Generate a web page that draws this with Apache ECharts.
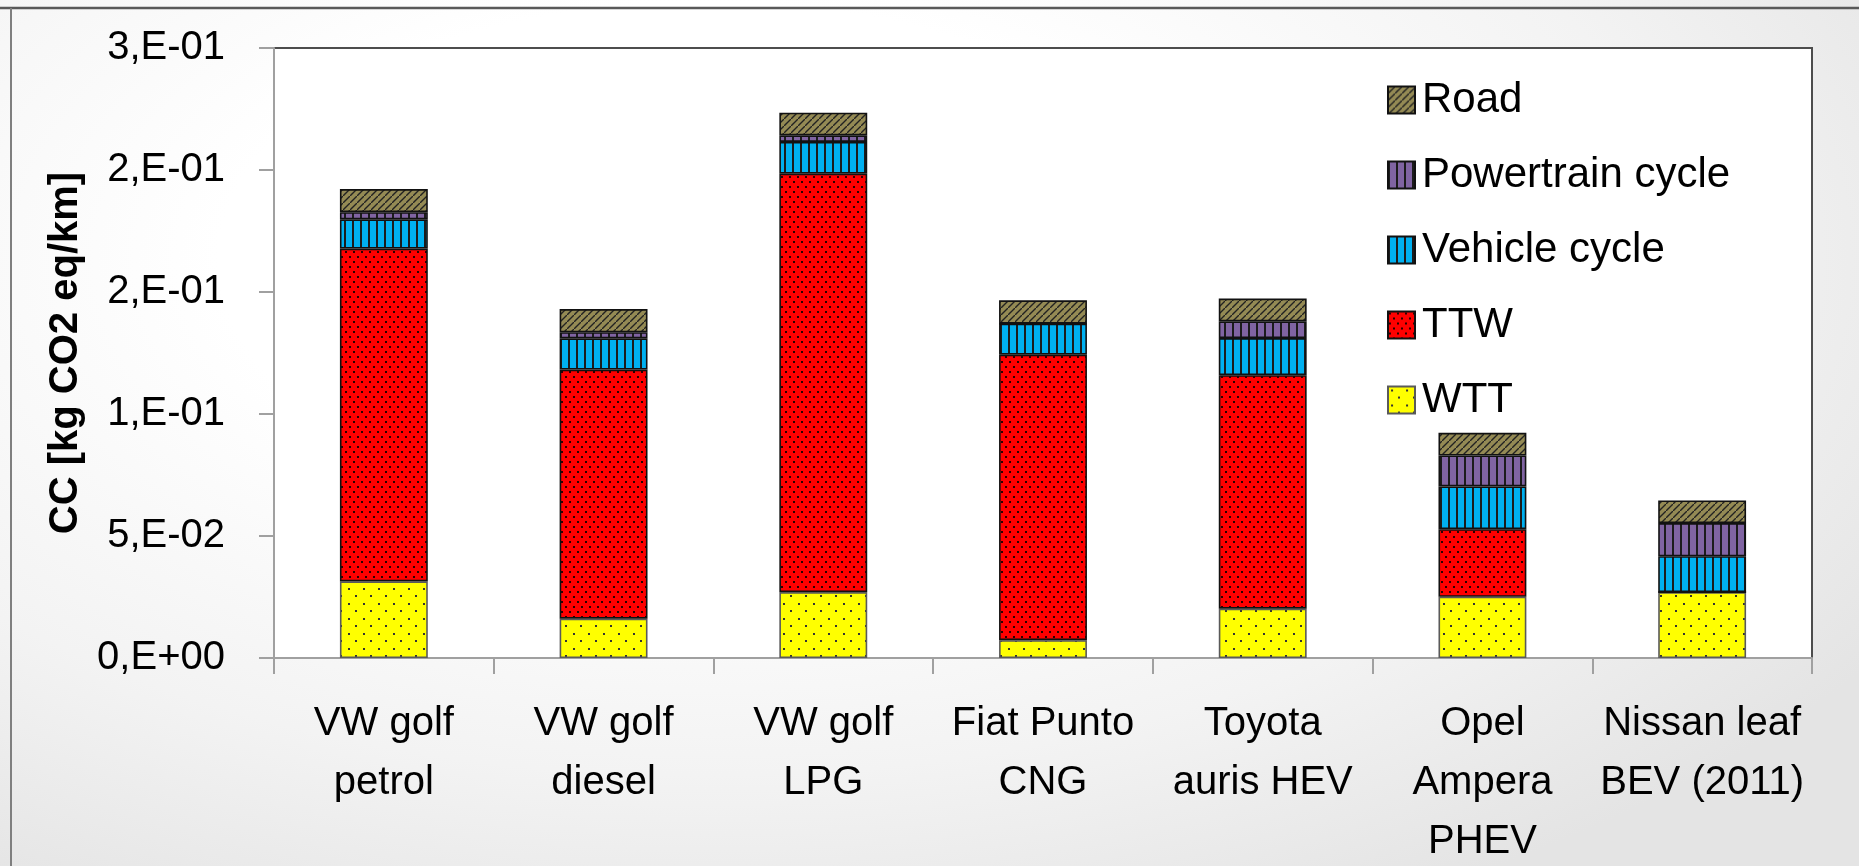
<!DOCTYPE html>
<html>
<head>
<meta charset="utf-8">
<script src="https://cdn.jsdelivr.net/npm/echarts@6/dist/echarts.min.js"></script>
<style>
html,body{margin:0;padding:0;width:1859px;height:866px;overflow:hidden;
background:radial-gradient(ellipse 75% 85% at 38% 30%, #ffffff 35%, #f3f3f3 70%, #e4e4e4 100%);}
#c{width:1859px;height:866px;}
</style>
</head>
<body>
<div id="c"></div>
<script>
// ---- data ----
const categories = ['VW golf\npetrol','VW golf\ndiesel','VW golf\nLPG','Fiat Punto\nCNG','Toyota\nauris HEV','Opel\nAmpera\nPHEV','Nissan leaf\nBEV (2011)'];
const wtt        = [0.0314, 0.0161, 0.0270, 0.0073, 0.0202, 0.0251, 0.0270];
const ttw        = [0.1364, 0.1021, 0.1715, 0.1170, 0.0957, 0.0277, 0.0000];
const vehicle    = [0.0120, 0.0128, 0.0130, 0.0127, 0.0152, 0.0175, 0.0147];
const powertrain = [0.0029, 0.0025, 0.0027, 0.0000, 0.0069, 0.0127, 0.0136];
const road       = [0.0095, 0.0095, 0.0093, 0.0096, 0.0093, 0.0093, 0.0093];
const yTickLabels = ['0,E+00','5,E-02','1,E-01','2,E-01','2,E-01','3,E-01'];
const legendNames = ['Road','Powertrain cycle','Vehicle cycle','TTW','WTT'];
const yTitle = 'CC [kg CO2 eq/km]';

// ---- pattern fills ----
function tile(w,h,draw){const c=document.createElement('canvas');c.width=w;c.height=h;draw(c.getContext('2d'),w,h);return {image:c,repeat:'repeat'};}
const pRoad = tile(7,7,(x,w,h)=>{x.fillStyle='#948a54';x.fillRect(0,0,w,h);x.strokeStyle='#222';x.lineWidth=1.4;
  x.beginPath();x.moveTo(-1,h+1);x.lineTo(w+1,-1);x.moveTo(-2,1);x.lineTo(1,-2);x.moveTo(w-1,h+2);x.lineTo(w+2,h-1);x.stroke();});
const pPower = tile(8,4,(x,w,h)=>{x.fillStyle='#8064a2';x.fillRect(0,0,w,h);x.fillStyle='#1c1c1c';x.fillRect(0,0,2,h);});
const pVeh = tile(8,4,(x,w,h)=>{x.fillStyle='#00b0f0';x.fillRect(0,0,w,h);x.fillStyle='#1c1c1c';x.fillRect(0,0,2,h);});
const pTTW = tile(8,10,(x,w,h)=>{x.fillStyle='#ff0000';x.fillRect(0,0,w,h);x.fillStyle='#2a0000';x.fillRect(1,1,2,2);x.fillRect(5,6,2,2);});
const pWTT = tile(15,15,(x,w,h)=>{x.fillStyle='#ffff00';x.fillRect(0,0,w,h);x.fillStyle='#333';x.fillRect(3,3,2,2);x.fillRect(10,10,2,2);});

const FONT = 'Liberation Sans';
const chart = echarts.init(document.getElementById('c'), null, {renderer:'canvas'});

function bar(name, data, fill, border){
  return {name, type:'bar', stack:'total', data, barWidth:'40%',
    itemStyle:{color:fill, borderColor:border, borderWidth:1.6}, emphasis:{disabled:true}};
}

chart.setOption({
  animation:false,
  backgroundColor:'transparent',
  graphic:[
    {type:'line', shape:{x1:0,y1:8,x2:1859,y2:8}, style:{stroke:'#595959', lineWidth:2.5}, z:0},
    {type:'line', shape:{x1:11,y1:8,x2:11,y2:866}, style:{stroke:'#7f7f7f', lineWidth:2}, z:0}
  ],
  grid:{left:274, right:47, top:48, bottom:208, containLabel:false, outerBoundsMode:'none',
    show:true, backgroundColor:'#ffffff', borderColor:'#4d4d4d', borderWidth:2},
  legend:{
    data:legendNames, orient:'vertical', left:1382, top:74, itemWidth:27, itemHeight:27, itemGap:33, icon:'rect',
    textStyle:{fontFamily:FONT, fontSize:42, color:'#000', padding:[0,0,0,2]}
  },
  xAxis:{
    type:'category', data:categories,
    axisLine:{lineStyle:{color:'#a0a0a0', width:2}},
    axisTick:{show:true, length:16, lineStyle:{color:'#a0a0a0', width:2}},
    axisLabel:{fontFamily:FONT, fontSize:40, color:'#000', lineHeight:59, margin:36, interval:0}
  },
  yAxis:{
    type:'value', min:0, max:0.25, interval:0.05,
    name:yTitle, nameLocation:'middle', nameGap:187,
    nameTextStyle:{fontFamily:FONT, fontSize:40, fontWeight:'bold', color:'#000'},
    splitLine:{show:false},
    axisLine:{show:true, lineStyle:{color:'#a0a0a0', width:2}},
    axisTick:{show:true, length:15, lineStyle:{color:'#a0a0a0', width:2}},
    axisLabel:{fontFamily:FONT, fontSize:40, color:'#000', margin:49,
      formatter:(v)=>yTickLabels[Math.round(v/0.05)]}
  },
  series:[
    bar('WTT', wtt, pWTT, '#5a5a5a'),
    bar('TTW', ttw, pTTW, '#111'),
    bar('Vehicle cycle', vehicle, pVeh, '#111'),
    bar('Powertrain cycle', powertrain, pPower, '#111'),
    bar('Road', road, pRoad, '#111')
  ]
});
</script>
</body>
</html>
